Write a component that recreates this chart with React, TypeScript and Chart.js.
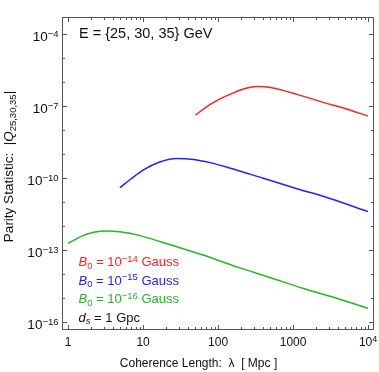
import React, { useEffect, useRef } from "react";
import { Chart, registerables } from "chart.js";

Chart.register(...registerables);

// Series data (λ in Mpc, |Q| values)
const redLambda = [50, 70, 100, 160, 250, 350, 500, 700, 1000, 1700, 2800, 4700, 10000];
const redQ = [4.2e-8, 9.3e-8, 1.82e-7, 3.55e-7, 5.75e-7, 6.46e-7, 5.89e-7, 4.7e-7, 3.39e-7, 2.09e-7, 1.29e-7, 8.3e-8, 3.8e-8];

const blueLambda = [4.9, 6.8, 10, 17, 28, 47, 78, 138, 400, 1100, 3100, 10000];
const blueQ = [3.98e-11, 8.9e-11, 2.14e-10, 4.8e-10, 6.6e-10, 6.0e-10, 4.4e-10, 2.7e-10, 9.8e-11, 3.7e-11, 1.41e-11, 4.0e-12];

const greenLambda = [1, 1.45, 2.2, 3.3, 4.9, 9.1, 17, 30, 63, 178, 490, 1380, 3800, 10000];
const greenQ = [1.9e-13, 3.55e-13, 5.5e-13, 6.3e-13, 5.75e-13, 4.0e-13, 2.24e-13, 1.29e-13, 6.2e-14, 2.0e-14, 7.2e-15, 2.5e-15, 9.8e-16, 3.7e-16];

// Tick values and labels
const xMajorTicks = [1, 10, 100, 1000, 10000];
const xTickBase = ["1", "10", "100", "1000", "10"];
const xTickSup = ["", "", "", "", "4"];
const yMajorTicks = [1e-4, 1e-7, 1e-10, 1e-13, 1e-16];
const yTickSup = ["\u22124", "\u22127", "\u221210", "\u221213", "\u221216"];
const yMinorExps = [-15, -14, -12, -11, -9, -8, -6, -5];

const legendExps = ["\u221214", "\u221215", "\u221216"];
const RED = "rgb(255,35,35)";
const BLUE = "rgb(35,35,255)";
const GREEN = "rgb(35,185,35)";
const legendColors = [RED, BLUE, GREEN];

const FONT = "'Liberation Sans', Arial, Helvetica, sans-serif";

type Run = { t: string; size: number; italic?: boolean; dy?: number; color?: string };

function runsWidth(ctx: CanvasRenderingContext2D, runs: Run[]) {
  let w = 0;
  for (const r of runs) {
    ctx.font = `${r.italic ? "italic " : ""}${r.size}px ${FONT}`;
    w += ctx.measureText(r.t).width;
  }
  return w;
}

function drawRuns(ctx: CanvasRenderingContext2D, runs: Run[], x: number, y: number, align: "left" | "right" | "center", color: string) {
  const w = runsWidth(ctx, runs);
  let cx = align === "right" ? x - w : align === "center" ? x - w / 2 : x;
  ctx.textAlign = "left";
  ctx.textBaseline = "alphabetic";
  for (const r of runs) {
    ctx.font = `${r.italic ? "italic " : ""}${r.size}px ${FONT}`;
    ctx.fillStyle = r.color || color;
    ctx.fillText(r.t, cx, y + (r.dy || 0));
    cx += ctx.measureText(r.t).width;
  }
}

const framePlugin = {
  id: "framePlugin",
  afterDraw(chart: any) {
    const ctx: CanvasRenderingContext2D = chart.ctx;
    const { left, right, top, bottom } = chart.chartArea;
    const xs = chart.scales.x;
    const ys = chart.scales.y;
    ctx.save();
    // frame
    ctx.strokeStyle = "#555";
    ctx.lineWidth = 1;
    ctx.strokeRect(left + 0.5, top + 0.5, right - left - 1, bottom - top - 1);

    // x ticks
    ctx.beginPath();
    for (let d = 0; d <= 4; d++) {
      for (let m = 1; m <= 9; m++) {
        const v = m * Math.pow(10, d);
        if (v > xs.max) continue;
        const px = Math.round(xs.getPixelForValue(v)) + 0.5;
        const len = m === 1 ? 5 : 3;
        ctx.moveTo(px, bottom);
        ctx.lineTo(px, bottom - len);
        ctx.moveTo(px, top);
        ctx.lineTo(px, top + len);
      }
    }
    // y ticks
    for (const v of yMajorTicks) {
      const py = Math.round(ys.getPixelForValue(v)) + 0.5;
      ctx.moveTo(left, py);
      ctx.lineTo(left + 5, py);
      ctx.moveTo(right, py);
      ctx.lineTo(right - 5, py);
    }
    for (const e of yMinorExps) {
      const py = Math.round(ys.getPixelForValue(Math.pow(10, e))) + 0.5;
      ctx.moveTo(left, py);
      ctx.lineTo(left + 3, py);
      ctx.moveTo(right, py);
      ctx.lineTo(right - 3, py);
    }
    ctx.stroke();

    // x tick labels
    xMajorTicks.forEach((v, i) => {
      const px = xs.getPixelForValue(v);
      const runs: Run[] = [{ t: xTickBase[i], size: 12 }];
      if (xTickSup[i]) runs.push({ t: xTickSup[i], size: 9, dy: -4 });
      drawRuns(ctx, runs, px, bottom + 16, "center", "#111");
    });
    // y tick labels
    yMajorTicks.forEach((v, i) => {
      const py = ys.getPixelForValue(v);
      drawRuns(ctx, [{ t: "10", size: 13.5 }, { t: yTickSup[i], size: 9.5, dy: -4 }], left - 3.5, py + 6.5, "right", "#111");
    });

    // x title
    drawRuns(ctx, [{ t: "Coherence Length:  \u03bb  [ Mpc ]", size: 12 }], 198.5, 367, "center", "#111");

    // y title (rotated)
    ctx.save();
    ctx.translate(13, 166.5);
    ctx.rotate(-Math.PI / 2);
    drawRuns(ctx, [
      { t: "Parity Statistic:  |", size: 13.5 },
      { t: "Q", size: 13.5, italic: true },
      { t: "25,30,35", size: 9.5, dy: 2.5 },
      { t: "|", size: 13.5 },
    ], 0, 0, "center", "#111");
    ctx.restore();

    // inner annotation
    drawRuns(ctx, [{ t: "E = {25, 30, 35} GeV", size: 14.5 }], left + 17, 37.5, "left", "#111");

    // legend texts
    legendExps.forEach((e, i) => {
      const y = 266 + i * 18.5;
      drawRuns(ctx, [
        { t: "B", size: 13, italic: true },
        { t: "0", size: 9.5, dy: 2.5 },
        { t: " = 10", size: 13 },
        { t: e, size: 9.5, dy: -4.5 },
        { t: " Gauss", size: 13 },
      ], left + 16.5, y, "left", legendColors[i]);
    });
    drawRuns(ctx, [
      { t: "d", size: 13, italic: true },
      { t: "s", size: 9.5, italic: true, dy: 2.5 },
      { t: " = 1 Gpc", size: 13 },
    ], left + 16.5, 266 + 3 * 18.5, "left", "#111");
    ctx.restore();
  },
};

function toPoints(xs: number[], ys: number[]) {
  return xs.map((x, i) => ({ x, y: ys[i] }));
}

export default function App() {
  const canvasRef = useRef<HTMLCanvasElement | null>(null);
  useEffect(() => {
    const canvas = canvasRef.current;
    if (!canvas) return;
    const chart = new Chart(canvas, {
      type: "line",
      data: {
        datasets: [
          { data: toPoints(redLambda, redQ), borderColor: RED, borderWidth: 1.5, pointRadius: 0, cubicInterpolationMode: "monotone", fill: false },
          { data: toPoints(blueLambda, blueQ), borderColor: BLUE, borderWidth: 1.5, pointRadius: 0, cubicInterpolationMode: "monotone", fill: false },
          { data: toPoints(greenLambda, greenQ), borderColor: GREEN, borderWidth: 1.5, pointRadius: 0, cubicInterpolationMode: "monotone", fill: false },
        ],
      },
      options: {
        responsive: false,
        animation: false,
        events: [],
        layout: { padding: { left: 62, right: 5, top: 17, bottom: 42 } },
        plugins: { legend: { display: false }, tooltip: { enabled: false }, title: { display: false } },
        scales: {
          x: { type: "logarithmic", min: 0.83, max: 12000, display: false },
          y: { type: "logarithmic", min: Math.pow(10, -16.33), max: Math.pow(10, -3.29), display: false },
        },
      },
      plugins: [framePlugin],
    });
    return () => chart.destroy();
  }, []);
  return (
    <div style={{ position: "absolute", left: 0, top: 0, width: 379, height: 372, background: "#fff" }}>
      <canvas ref={canvasRef} width={379} height={372} style={{ width: 379, height: 372, display: "block" }} />
    </div>
  );
}
